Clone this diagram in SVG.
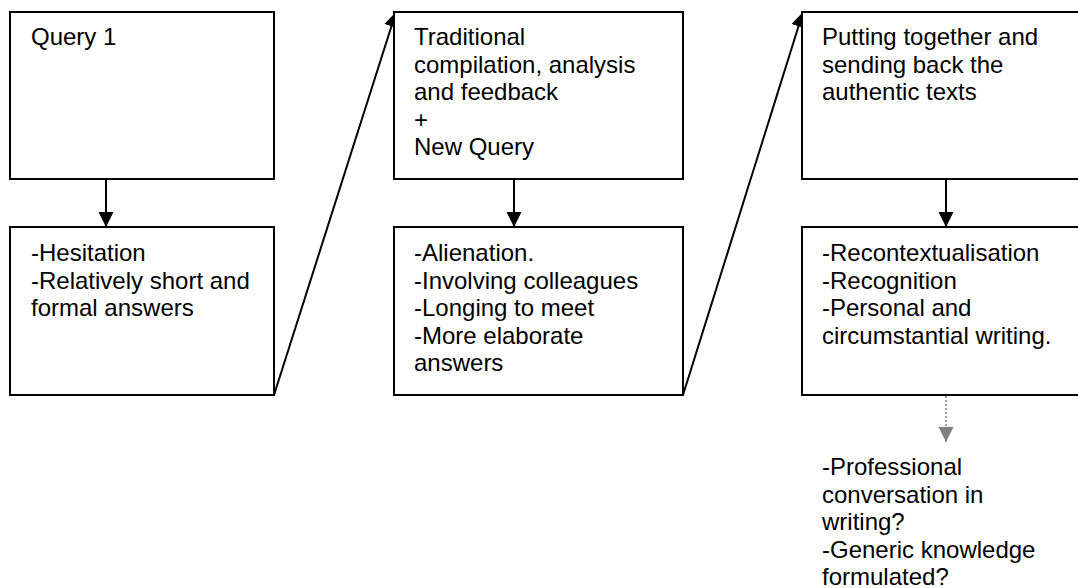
<svg xmlns="http://www.w3.org/2000/svg" width="1078" height="588" viewBox="0 0 1078 588">
<style>
.box{fill:#fff;stroke:#000;stroke-width:2}
.t{font-family:"Liberation Sans",Arial,sans-serif;font-size:24px;fill:#000}
.c{fill:none;stroke:#000;stroke-width:2}
.d{fill:none;stroke:#808080;stroke-width:1.5;stroke-dasharray:2 2}
</style>
<defs>
<marker id="ah" markerUnits="userSpaceOnUse" markerWidth="16" markerHeight="16" viewBox="0 0 16 16" refX="15" refY="7.5" orient="auto">
<path d="M0,0 L15,7.5 L0,15 z" fill="#000"/>
</marker>
<marker id="ahg" markerUnits="userSpaceOnUse" markerWidth="16" markerHeight="16" viewBox="0 0 16 16" refX="15" refY="7.5" orient="auto">
<path d="M0,0 L15,7.5 L0,15 z" fill="#808080"/>
</marker>
</defs>
<rect width="1078" height="588" fill="#fff"/>
<g id="connectors">
<line class="c" x1="106" y1="179" x2="106" y2="227" marker-end="url(#ah)"/>
<line class="c" x1="514" y1="179" x2="514" y2="227" marker-end="url(#ah)"/>
<line class="c" x1="946" y1="179" x2="946" y2="227" marker-end="url(#ah)"/>
<line class="c" x1="274" y1="395" x2="396" y2="12" marker-end="url(#ah)"/>
<line class="c" x1="683" y1="395" x2="803" y2="12" marker-end="url(#ah)"/>
<line class="d" x1="946" y1="396" x2="946" y2="442" marker-end="url(#ahg)"/>
</g>
<g id="query1">
<rect class="box" x="10" y="12" width="264" height="167"/>
<text class="t" x="31" y="45">Query 1</text>
</g>
<g id="reaction1">
<rect class="box" x="10" y="227" width="264" height="168"/>
<text class="t" x="31" y="261">-Hesitation</text>
<text class="t" x="31" y="288.6">-Relatively short and</text>
<text class="t" x="31" y="316.2">formal answers</text>
</g>
<g id="feedback">
<rect class="box" x="394" y="12" width="289" height="167"/>
<text class="t" x="414" y="45">Traditional</text>
<text class="t" x="414" y="72.6">compilation, analysis</text>
<text class="t" x="414" y="100.2">and feedback</text>
<text class="t" x="414" y="127.8">+</text>
<text class="t" x="414" y="155.4">New Query</text>
</g>
<g id="reaction2">
<rect class="box" x="394" y="227" width="289" height="168"/>
<text class="t" x="414" y="261">-Alienation.</text>
<text class="t" x="414" y="288.6">-Involving colleagues</text>
<text class="t" x="414" y="316.2">-Longing to meet</text>
<text class="t" x="414" y="343.8">-More elaborate</text>
<text class="t" x="414" y="371.4">answers</text>
</g>
<g id="authentic">
<rect class="box" x="802" y="12" width="289" height="167"/>
<text class="t" x="822" y="45">Putting together and</text>
<text class="t" x="822" y="72.6">sending back the</text>
<text class="t" x="822" y="100.2">authentic texts</text>
</g>
<g id="reaction3">
<rect class="box" x="802" y="227" width="289" height="168"/>
<text class="t" x="822" y="261">-Recontextualisation</text>
<text class="t" x="822" y="288.6">-Recognition</text>
<text class="t" x="822" y="316.2">-Personal and</text>
<text class="t" x="822" y="343.8">circumstantial writing.</text>
</g>
<g id="outcome">
<text class="t" x="822" y="475">-Professional</text>
<text class="t" x="822" y="502.6">conversation in</text>
<text class="t" x="822" y="530.2">writing?</text>
<text class="t" x="822" y="557.8">-Generic knowledge</text>
<text class="t" x="822" y="585.4">formulated?</text>
</g>
</svg>
